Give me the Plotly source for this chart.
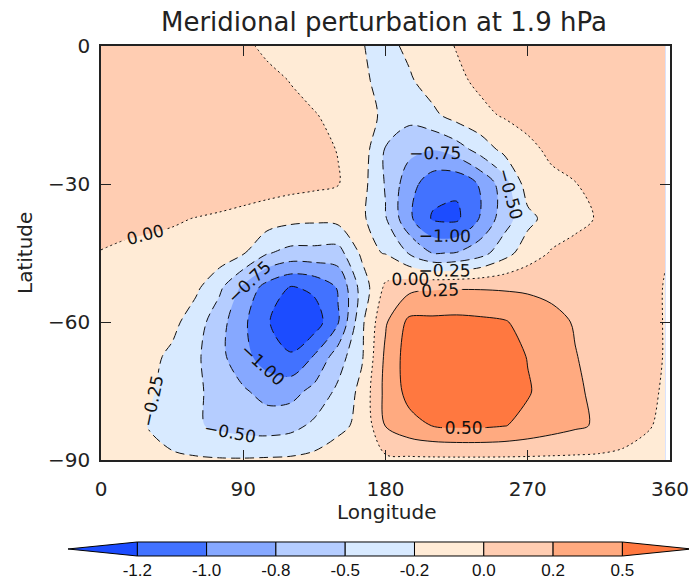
import plotly.graph_objects as go

# ---------------- data ----------------
lons = [0, 15, 30, 45, 60, 75, 90, 105, 120, 135, 150, 165, 180,
        195, 210, 225, 240, 255, 270, 285, 300, 315, 330, 345, 357]
lats = [0, -7.5, -15, -22.5, -30, -37.5, -45, -52.5, -60, -67.5, -75, -82.5, -90]

v_lat000 = [0.12, 0.13, 0.13, 0.12, 0.10, 0.08, 0.03, -0.03, -0.08, -0.13, -0.18, -0.24, -0.32,
            -0.20, -0.08, 0.01, 0.06, 0.09, 0.11, 0.12, 0.12, 0.12, 0.12, 0.12, 0.12]
v_lat075 = [0.12, 0.13, 0.14, 0.13, 0.12, 0.10, 0.07, 0.04, -0.005, -0.07, -0.13, -0.20, -0.34,
            -0.28, -0.14, -0.04, 0.04, 0.08, 0.11, 0.13, 0.13, 0.13, 0.13, 0.12, 0.12]
v_lat150 = [0.12, 0.13, 0.14, 0.14, 0.13, 0.12, 0.10, 0.07, 0.04, 0.01, -0.05, -0.15, -0.30,
            -0.42, -0.30, -0.15, -0.05, 0.02, 0.07, 0.10, 0.12, 0.13, 0.13, 0.12, 0.12]
v_lat225 = [0.12, 0.13, 0.14, 0.14, 0.14, 0.13, 0.12, 0.10, 0.07, 0.04, -0.005, -0.12, -0.52,
            -0.68, -0.74, -0.62, -0.40, -0.18, -0.05, 0.04, 0.08, 0.10, 0.11, 0.12, 0.12]
v_lat300 = [0.11, 0.12, 0.13, 0.14, 0.14, 0.13, 0.12, 0.10, 0.08, 0.05, 0.01, -0.16, -0.52,
            -0.90, -1.15, -1.20, -0.97, -0.62, -0.12, -0.05, -0.005, 0.04, 0.08, 0.11, 0.11]
v_lat375 = [0.05, 0.05, 0.04, 0.02, -0.005, -0.03, -0.07, -0.12, -0.18, -0.20, -0.17, -0.20, -0.48,
            -0.95, -1.28, -1.30, -0.98, -0.62, -0.32, -0.15, -0.05, 0.015, 0.05, 0.06, 0.05]
v_lat450 = [-0.005, -0.03, -0.05, -0.06, -0.07, -0.10, -0.23, -0.48, -0.58, -0.58, -0.60, -0.20, -0.26,
            -0.52, -0.76, -0.74, -0.60, -0.35, -0.12, 0.02, 0.06, 0.08, 0.07, 0.04, 0.01]
v_lat525 = [-0.03, -0.05, -0.07, -0.10, -0.20, -0.45, -0.80, -1.10, -1.27, -1.20, -0.98, -0.40, 0.05,
            0.18, 0.22, 0.23, 0.23, 0.22, 0.21, 0.18, 0.15, 0.12, 0.10, 0.06, -0.01]
v_lat600 = [-0.05, -0.07, -0.10, -0.18, -0.38, -0.65, -0.95, -1.22, -1.45, -1.38, -1.02, -0.30, 0.22,
            0.56, 0.56, 0.57, 0.55, 0.52, 0.42, 0.33, 0.23, 0.14, 0.10, 0.06, -0.01]
v_lat675 = [-0.08, -0.12, -0.18, -0.30, -0.45, -0.68, -0.92, -1.12, -1.22, -0.98, -0.62, -0.28, 0.30,
            0.62, 0.68, 0.70, 0.68, 0.62, 0.49, 0.36, 0.26, 0.17, 0.11, 0.06, -0.01]
v_lat750 = [-0.08, -0.14, -0.22, -0.33, -0.46, -0.58, -0.72, -0.84, -0.84, -0.68, -0.45, -0.18, 0.32,
            0.58, 0.68, 0.70, 0.68, 0.62, 0.52, 0.40, 0.29, 0.19, 0.11, 0.04, -0.02]
v_lat825 = [-0.08, -0.15, -0.26, -0.38, -0.47, -0.55, -0.60, -0.62, -0.58, -0.45, -0.30, -0.20, 0.26,
            0.42, 0.51, 0.54, 0.54, 0.51, 0.44, 0.36, 0.29, 0.22, 0.12, 0.02, -0.04]
v_lat900 = [-0.08, -0.12, -0.16, -0.20, -0.22, -0.23, -0.23, -0.22, -0.21, -0.18, -0.14, -0.10, -0.05,
            -0.05, -0.05, -0.05, -0.05, -0.05, -0.05, -0.05, -0.05, -0.05, -0.06, -0.07, -0.08]

field = [v_lat000, v_lat075, v_lat150, v_lat225, v_lat300, v_lat375, v_lat450,
         v_lat525, v_lat600, v_lat675, v_lat750, v_lat825, v_lat900]

levels = [-1.25, -1.0, -0.75, -0.5, -0.25, 0.0, 0.25, 0.5]
cbar_labels = ["-1.2", "-1.0", "-0.8", "-0.5", "-0.2", "0.0", "0.2", "0.5"]
fill_colors = ["#1c4cff", "#4272ff", "#86a8ff", "#b5cdff", "#d8eaff",
               "#ffebd6", "#ffcdb2", "#ffaa80", "#ff7840"]

x_ticks = [0, 90, 180, 270, 360]
x_ticklabels = ["0", "90", "180", "270", "360"]
y_ticks = [0, -30, -60, -90]
y_ticklabels = ["0", "\u221230", "\u221260", "\u221290"]

title_text = "Meridional perturbation at 1.9 hPa"
xlabel_text = "Longitude"
ylabel_text = "Latitude"

# ---------------- layout helpers ----------------
W, H = 689, 585
def px(x):
    return x / W
def py(y):
    return (H - y) / H

step = levels[1] - levels[0]
nb = len(fill_colors)
cscale = []
for k, col in enumerate(fill_colors):
    lo = max(0.0, (k - 0.5) / (nb - 1))
    hi = min(1.0, (k + 0.5) / (nb - 1))
    cscale.append([lo, col])
    cscale.append([hi, col])

SMOOTH = 0.9
fig = go.Figure()

# filled contours
fig.add_trace(go.Contour(
    x=lons, y=lats, z=field, colorscale=cscale, autocontour=False,
    contours=dict(start=levels[0], end=levels[-1], size=step,
                  coloring="fill", showlines=False),
    line=dict(width=0, smoothing=SMOOTH), showscale=False, hoverinfo="skip"))

labfont = dict(family="DejaVu Sans", size=17, color="#111111")
neg = [l for l in levels if l < 0]
pos = [l for l in levels if l > 0]
# negative: dashed
fig.add_trace(go.Contour(
    x=lons, y=lats, z=field, autocontour=False,
    contours=dict(start=min(neg), end=max(neg), size=step, coloring="none",
                  showlabels=True, labelfont=labfont, labelformat=".2f"),
    line=dict(color="#111111", width=1, dash="9px,5px", smoothing=SMOOTH),
    showscale=False, hoverinfo="skip"))
# zero: dotted
fig.add_trace(go.Contour(
    x=lons, y=lats, z=field, autocontour=False,
    contours=dict(start=0.0, end=0.0, size=step, coloring="none",
                  showlabels=True, labelfont=labfont, labelformat=".2f"),
    line=dict(color="#111111", width=1, dash="2px,3px", smoothing=SMOOTH),
    showscale=False, hoverinfo="skip"))
# positive: solid
fig.add_trace(go.Contour(
    x=lons, y=lats, z=field, autocontour=False,
    contours=dict(start=min(pos), end=max(pos), size=step, coloring="none",
                  showlabels=True, labelfont=labfont, labelformat=".2f"),
    line=dict(color="#111111", width=1, smoothing=SMOOTH),
    showscale=False, hoverinfo="skip"))

# colour bar built on its own axes
for i in range(len(levels) - 1):
    a, b = levels[i], levels[i + 1]
    fig.add_trace(go.Scatter(
        x=[a, b, b, a, a], y=[0, 0, 1, 1, 0], mode="lines", fill="toself",
        fillcolor=fill_colors[i + 1], line=dict(color="black", width=1),
        xaxis="x2", yaxis="y2", showlegend=False, hoverinfo="skip"))
lo_tip = levels[0] - step
hi_tip = levels[-1] + step
fig.add_trace(go.Scatter(
    x=[levels[0], lo_tip, levels[0], levels[0]], y=[0, 0.5, 1, 0], mode="lines",
    fill="toself", fillcolor=fill_colors[0], line=dict(color="black", width=1),
    xaxis="x2", yaxis="y2", showlegend=False, hoverinfo="skip"))
fig.add_trace(go.Scatter(
    x=[levels[-1], hi_tip, levels[-1], levels[-1]], y=[0, 0.5, 1, 0], mode="lines",
    fill="toself", fillcolor=fill_colors[-1], line=dict(color="black", width=1),
    xaxis="x2", yaxis="y2", showlegend=False, hoverinfo="skip"))

axfont = dict(family="DejaVu Sans", size=20, color="#222222")
# colour bar geometry (pixels)
cb_tip_px, cb_box0_px = 68.0, 137.3
ppu = (cb_box0_px - cb_tip_px) / step
x2_lo = lo_tip - 0.02
x2_dom0 = cb_tip_px - 0.02 * ppu
x2_hi = x2_lo + (W - x2_dom0) / ppu
cb_top, cb_bot = 542.0, 556.0
pad = 0.1
y2_dom_bot = cb_bot + pad * (cb_bot - cb_top)
y2_dom_top = cb_top - pad * (cb_bot - cb_top)

fig.update_layout(
    width=W, height=H, margin=dict(l=0, r=0, t=0, b=0, autoexpand=False),
    paper_bgcolor="white", plot_bgcolor="white", showlegend=False,
    xaxis=dict(domain=[px(101), px(670)], range=[0, 360], tickvals=x_ticks,
               ticktext=x_ticklabels, ticks="inside", ticklen=10, tickwidth=1,
               tickcolor="#222222", showline=True, linecolor="#222222", linewidth=1.5,
               mirror="ticks", showgrid=False, zeroline=False, tickfont=axfont,
               ticklabelstandoff=10, anchor="y", automargin=False,
               ticklabeloverflow="allow"),
    yaxis=dict(domain=[py(460), py(46)], range=[-90, 0], tickvals=y_ticks,
               ticktext=y_ticklabels, ticks="inside", ticklen=10, tickwidth=1,
               tickcolor="#222222", showline=True, linecolor="#222222", linewidth=1.5,
               mirror="ticks", showgrid=False, zeroline=False, tickfont=axfont,
               ticklabelstandoff=5, anchor="x", automargin=False,
               ticklabeloverflow="allow"),
    xaxis2=dict(domain=[px(x2_dom0), 1.0], range=[x2_lo, x2_hi], tickvals=levels,
                ticktext=cbar_labels, ticks="", showline=False, showgrid=False,
                zeroline=False, anchor="y2", fixedrange=True, ticklabelstandoff=1,
                automargin=False, ticklabeloverflow="allow",
                tickfont=dict(family="Liberation Sans", size=17, color="#111111")),
    yaxis2=dict(domain=[py(y2_dom_bot), py(y2_dom_top)], range=[-pad, 1 + pad],
                showticklabels=False, ticks="", showline=False, showgrid=False,
                zeroline=False, anchor="x2", fixedrange=True, automargin=False),
    annotations=[
        dict(text=title_text, x=px(384), y=py(22), xref="paper", yref="paper",
             xanchor="center", yanchor="middle", showarrow=False,
             font=dict(family="DejaVu Sans", size=26, color="#222222")),
        dict(text=xlabel_text, x=px(386), y=py(512), xref="paper", yref="paper",
             xanchor="center", yanchor="middle", showarrow=False, font=axfont),
        dict(text=ylabel_text, x=px(25), y=py(253), xref="paper", yref="paper",
             xanchor="center", yanchor="middle", showarrow=False, textangle=-90,
             font=axfont),
    ],
)

fig.write_html("out.html")
